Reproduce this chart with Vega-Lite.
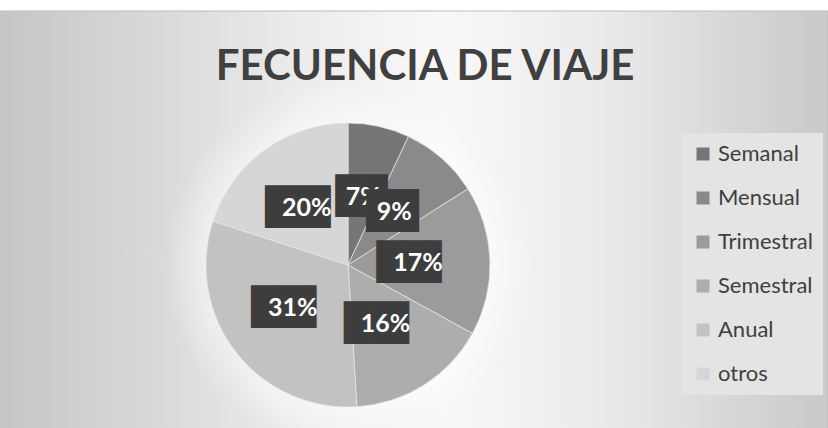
{
  "$schema": "https://vega.github.io/schema/vega-lite/v6.json",
  "width": 960,
  "height": 508,
  "autosize": {"type": "none"},
  "padding": {"left": -132, "top": 11, "right": 0, "bottom": -91},
  "background": "#ffffff",
  "config": {"view": {"stroke": null}},
  "title": {
    "text": "FECUENCIA DE VIAJE",
    "font": "Lato",
    "fontSize": 42,
    "fontWeight": "bold",
    "color": "#404040",
    "anchor": "middle",
    "frame": "group",
    "dx": 77,
    "offset": -78
  },
  "data": {
    "values": [
      {"idx": 1, "cat": "Semanal", "value": 0.07},
      {"idx": 2, "cat": "Mensual", "value": 0.09},
      {"idx": 3, "cat": "Trimestral", "value": 0.17},
      {"idx": 4, "cat": "Semestral", "value": 0.16},
      {"idx": 5, "cat": "Anual", "value": 0.31},
      {"idx": 6, "cat": "otros", "value": 0.20}
    ]
  },
  "layer": [
    {
      "data": {"values": [{"d": 1}]},
      "mark": {
        "type": "rect",
        "stroke": "#bdbdbd",
        "strokeWidth": 1,
        "fill": {
          "gradient": "linear",
          "x1": 0, "y1": 0, "x2": 1, "y2": 0,
          "stops": [
            {"offset": 0.14, "color": "#c6c6c6"},
            {"offset": 0.30, "color": "#d9d9d9"},
            {"offset": 0.45, "color": "#ececec"},
            {"offset": 0.60, "color": "#f8f8f8"},
            {"offset": 0.76, "color": "#ebebeb"},
            {"offset": 1, "color": "#c9c9c9"}
          ]
        }
      },
      "encoding": {
        "x": {"value": 0},
        "x2": {"value": "width"},
        "y": {"value": 0},
        "y2": {"value": "height"}
      }
    },
    {
      "data": {"values": [{"d": 1}]},
      "mark": {
        "type": "arc",
        "theta": 0,
        "theta2": 6.2832,
        "outerRadius": 185,
        "stroke": null,
        "fill": {
          "gradient": "radial",
          "x1": 0.5, "y1": 0.5, "r1": 0,
          "x2": 0.5, "y2": 0.5, "r2": 0.5,
          "stops": [
            {"offset": 0, "color": "rgba(255,255,255,0.6)"},
            {"offset": 0.76, "color": "rgba(255,255,255,0.5)"},
            {"offset": 1, "color": "rgba(255,255,255,0)"}
          ]
        }
      },
      "encoding": {}
    },
    {
      "mark": {"type": "arc", "outerRadius": 142, "stroke": "#e6e6e6", "strokeWidth": 0.75},
      "encoding": {
        "theta": {"field": "value", "type": "quantitative", "stack": true},
        "order": {"field": "idx", "type": "quantitative"},
        "color": {
          "field": "cat",
          "type": "nominal",
          "scale": {
            "domain": ["Semanal", "Mensual", "Trimestral", "Semestral", "Anual", "otros"],
            "range": ["#767676", "#8a8a8a", "#9b9b9b", "#adadad", "#c2c2c2", "#d6d6d6"]
          },
          "legend": {
            "orient": "none",
            "legendX": 814,
            "legendY": 122,
            "title": null,
            "symbolType": "square",
            "symbolSize": 169,
            "symbolStrokeWidth": 0,
            "symbolOpacity": 1,
            "labelFont": "Lato",
            "labelFontSize": 22,
            "labelColor": "#404040",
            "labelOffset": 4,
            "fillColor": "#e4e4e4",
            "padding": 10,
            "rowPadding": 22
          }
        }
      }
    },
    {
      "transform": [{"calculate": "datum.value >= 0.1 ? '██▍' : '█▉'", "as": "box"}],
      "mark": {"type": "text", "radius": 70, "font": "DejaVu Sans", "fontSize": 36, "color": "#3d3d3d", "baseline": "middle", "align": "center"},
      "encoding": {
        "theta": {"field": "value", "type": "quantitative", "stack": true},
        "order": {"field": "idx", "type": "quantitative"},
        "text": {"field": "box"}
      }
    },
    {
      "mark": {"type": "text", "radius": 70, "font": "Lato", "fontSize": 25, "fontWeight": "bold", "color": "#ffffff", "baseline": "middle", "align": "center"},
      "encoding": {
        "theta": {"field": "value", "type": "quantitative", "stack": true},
        "order": {"field": "idx", "type": "quantitative"},
        "text": {"field": "value", "type": "quantitative", "format": ".0%"}
      }
    },
    {
      "transform": [{"calculate": "datum.cat === 'Mensual' ? '█▉' : ''", "as": "box"}],
      "mark": {"type": "text", "radius": 70, "font": "DejaVu Sans", "fontSize": 36, "color": "#3d3d3d", "baseline": "middle", "align": "center"},
      "encoding": {
        "theta": {"field": "value", "type": "quantitative", "stack": true},
        "order": {"field": "idx", "type": "quantitative"},
        "text": {"field": "box"}
      }
    },
    {
      "mark": {"type": "text", "radius": 70, "font": "Lato", "fontSize": 25, "fontWeight": "bold", "color": "#ffffff", "baseline": "middle", "align": "center"},
      "encoding": {
        "theta": {"field": "value", "type": "quantitative", "stack": true},
        "order": {"field": "idx", "type": "quantitative"},
        "text": {"condition": {"test": "datum.cat === 'Mensual'", "field": "value", "type": "quantitative", "format": ".0%"}, "value": ""}
      }
    }
  ]
}
